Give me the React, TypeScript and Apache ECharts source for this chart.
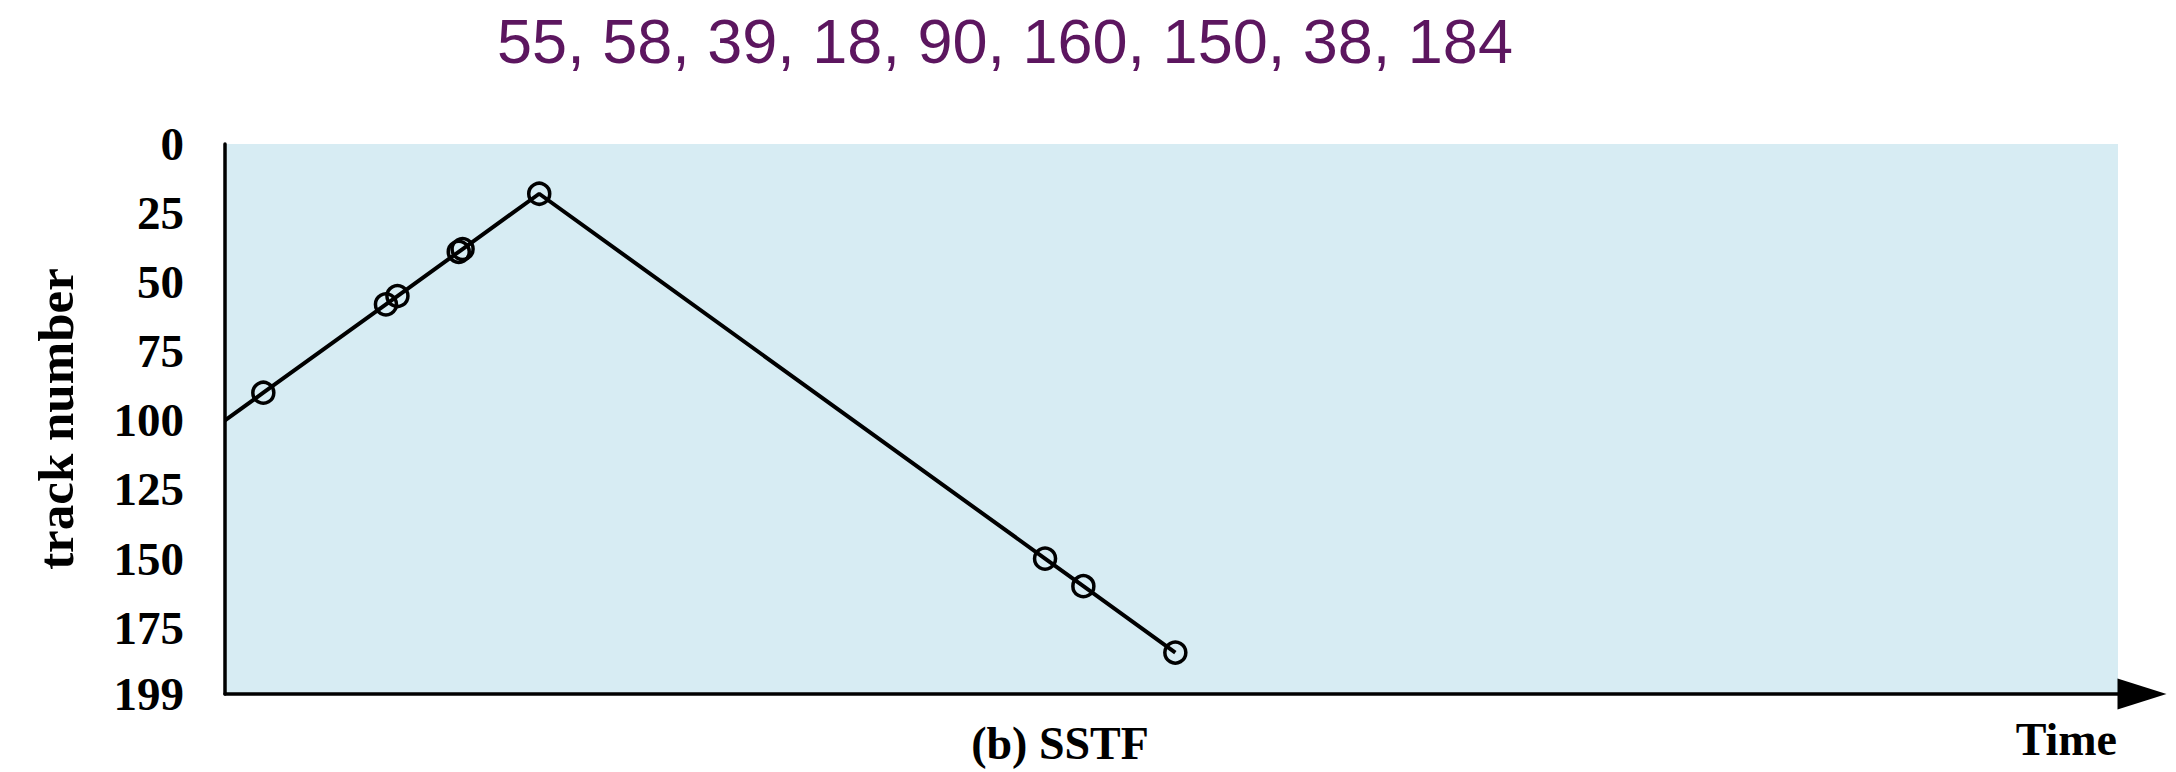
import React, { useEffect, useRef } from "react";
import * as echarts from "echarts";

// Request order served by SSTF, starting at track 100
const titleText = "55, 58, 39, 18, 90, 160, 150, 38, 184";
const timeValues = [0, 10, 42, 45, 61, 62, 82, 214, 224, 248];
const trackValues = [100, 90, 58, 55, 39, 38, 18, 150, 160, 184];
const yTicks = [0, 25, 50, 75, 100, 125, 150, 175, 199];
const xAxisMax = 494;
const yAxisMax = 199;

const SERIF = "'Liberation Serif', 'Times New Roman', serif";
const SANS = "'Liberation Sans', Arial, sans-serif";

export default function App() {
  const ref = useRef<HTMLDivElement>(null);

  useEffect(() => {
    if (!ref.current) return;
    const chart = echarts.init(ref.current, undefined, { renderer: "svg" });

    const seriesData = timeValues.map((t, i) =>
      i === 0
        ? { value: [t, trackValues[i]], symbol: "none" }
        : { value: [t, trackValues[i]] }
    );

    chart.setOption({
      animation: false,
      backgroundColor: "#ffffff",
      title: {
        text: titleText,
        left: 1005,
        top: 9,
        padding: 0,
        textAlign: "center",
        textStyle: {
          fontFamily: SANS,
          fontSize: 63,
          fontWeight: "normal",
          color: "#5C165F",
        },
      },
      grid: {
        left: 225,
        right: 58,
        top: 144,
        bottom: 78,
        show: true,
        backgroundColor: "#D7ECF3",
        borderWidth: 0,
        containLabel: false,
      },
      xAxis: {
        type: "value",
        min: 0,
        max: xAxisMax,
        name: "Time",
        nameLocation: "end",
        nameGap: -1,
        nameTextStyle: {
          fontFamily: SERIF,
          fontWeight: "bold",
          fontSize: 46,
          color: "#000",
          align: "right",
          verticalAlign: "top",
          padding: [22, 0, 0, 0],
        },
        axisLine: {
          show: true,
          onZero: false,
          symbol: ["none", "triangle"],
          symbolSize: [31, 49],
          symbolOffset: [0, 24],
          lineStyle: { color: "#000", width: 3.5 },
        },
        axisTick: { show: false },
        axisLabel: { show: false },
        splitLine: { show: false },
      },
      yAxis: {
        type: "value",
        inverse: true,
        min: 0,
        max: yAxisMax,
        interval: 25,
        name: "track number",
        nameLocation: "middle",
        nameGap: 144,
        nameRotate: 90,
        nameTextStyle: {
          fontFamily: SERIF,
          fontWeight: "bold",
          fontSize: 51,
          color: "#000",
        },
        axisLine: {
          show: true,
          onZero: false,
          lineStyle: { color: "#000", width: 3.5 },
        },
        axisTick: { show: false },
        axisLabel: {
          show: true,
          margin: 41,
          showMinLabel: true,
          showMaxLabel: true,
          fontFamily: SERIF,
          fontWeight: "bold",
          fontSize: 47,
          color: "#000",
          formatter: (v: number) => (yTicks.includes(v) ? String(v) : ""),
        },
        splitLine: { show: false },
      },
      graphic: [
        {
          type: "text",
          x: 1060,
          y: 743,
          style: {
            text: "(b) SSTF",
            fontFamily: SERIF,
            fontWeight: "bold",
            fontSize: 46,
            fill: "#000",
            align: "center",
            verticalAlign: "middle",
          },
        },
      ],
      series: [
        {
          type: "line",
          data: seriesData,
          symbol: "circle",
          symbolSize: 21,
          showSymbol: true,
          clip: false,
          lineStyle: { color: "#000", width: 4 },
          itemStyle: {
            color: "rgba(0,0,0,0)",
            borderColor: "#000",
            borderWidth: 3.5,
          },
          emphasis: { disabled: true },
        },
      ],
    });

    return () => {
      chart.dispose();
    };
  }, []);

  return (
    <div
      ref={ref}
      style={{ position: "absolute", left: 0, top: 0, width: 2176, height: 772 }}
    />
  );
}
